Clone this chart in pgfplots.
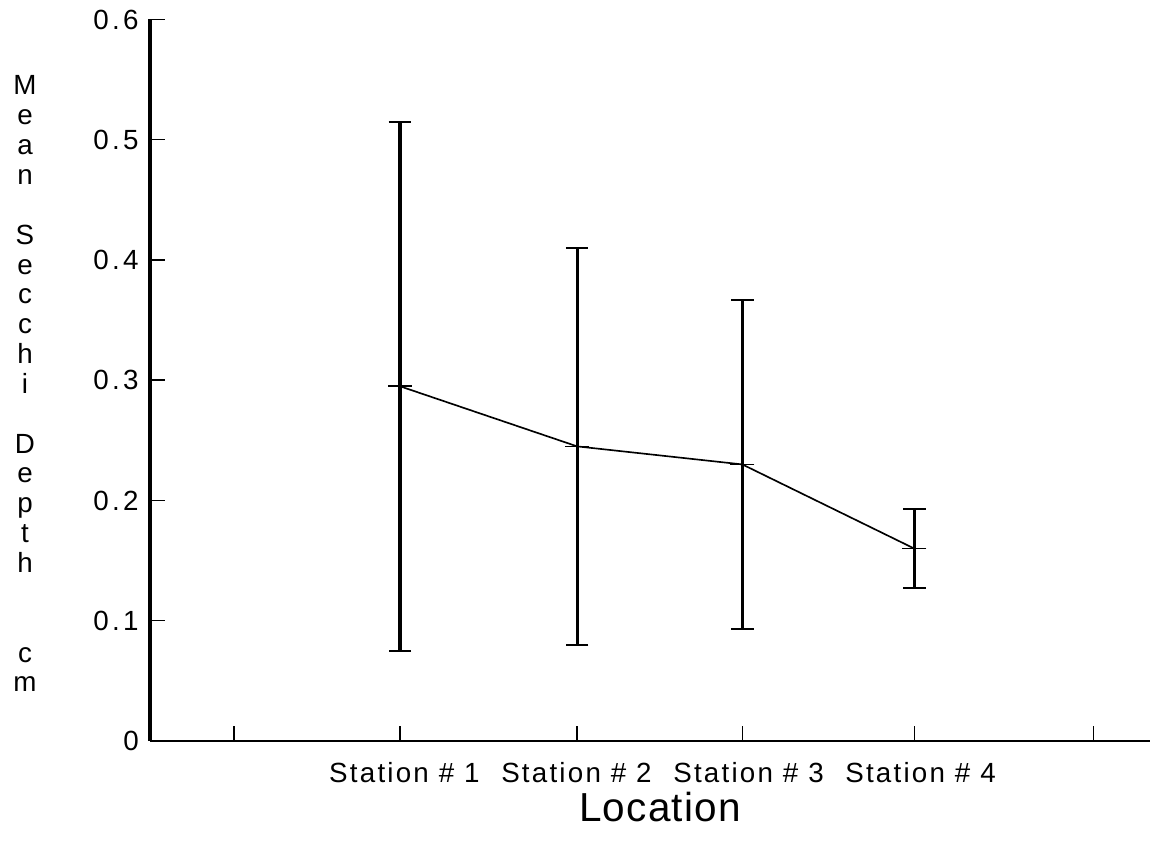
\documentclass[border=0pt]{standalone}
\usepackage{fontspec}
\setmainfont{Liberation Sans}
\newfontfamily\tickfont{Liberation Sans}[LetterSpace=12]
\newfontfamily\stfont{Liberation Sans}[LetterSpace=8]
\newfontfamily\labfont{Liberation Sans}[LetterSpace=3]
\usepackage{pgfplots}
\usepackage{pgfplotstable}
\pgfplotsset{compat=1.18}
\pgfplotstableread{
x     y      e
1     0.295  0.220
2.03  0.245  0.165
2.99  0.230  0.137
3.99  0.160  0.033
}\secchi
\begin{document}
\begin{tikzpicture}
\useasboundingbox (-100pt,-68pt) rectangle (674pt,494pt);
\begin{axis}[
  at={(0pt,0pt)}, anchor=south west,
  scale only axis, width=666.7pt, height=481pt,
  xmin=-0.453, xmax=5.36, ymin=0, ymax=0.6,
  axis lines=left, axis line style={-},
  x axis line style={line width=1.2pt},
  y axis line style={line width=2.3pt},
  xtick={0.035,1,2.03,2.99,3.99,5.03},
  xticklabels={},
  extra x ticks={1.026,2.026,3.026,4.026},
  extra x tick labels={Station \# 1,Station \# 2,Station \# 3,Station \# 4},
  extra x tick style={major tick length=0pt},
  ytick={0,0.1,0.2,0.3,0.4,0.5,0.6},
  yticklabels={0,0.1,0.2,0.3,0.4,0.5,0.6},
  tick align=inside,
  major tick length=10pt,
  tick style={line width=1pt, black},
  yticklabel style={font=\tickfont\fontsize{18.5}{21}\selectfont, xshift=-4pt},
  xticklabel style={font=\stfont\fontsize{18.5}{21}\selectfont, anchor=center, yshift=-21pt},
  xlabel={Location},
  xlabel style={font=\labfont\fontsize{27}{30}\selectfont, at={(axis description cs:0.51,0)}, anchor=center, yshift=-44pt},
  ylabel={\begin{tabular}{@{}c@{}}M\\e\\a\\n\\ \\S\\e\\c\\c\\h\\i\\ \\D\\e\\p\\t\\h\\ \\ \\c\\m\end{tabular}},
  ylabel style={font=\fontsize{18.5}{19.9}\selectfont, rotate=-90, at={(axis description cs:-0.125,0.49)}, anchor=center},
  clip=false,
]
\addplot[black, line width=1.1pt, mark=-, mark size=8pt, mark options={line width=1.1pt},
  error bars/.cd, y dir=both, y explicit,
  error bar style={line width=2.2pt},
  error mark options={rotate=90, mark size=7.5pt, line width=1.1pt}]
  table[x=x, y=y, y error=e] {\secchi};
\end{axis}
\end{tikzpicture}
\end{document}
